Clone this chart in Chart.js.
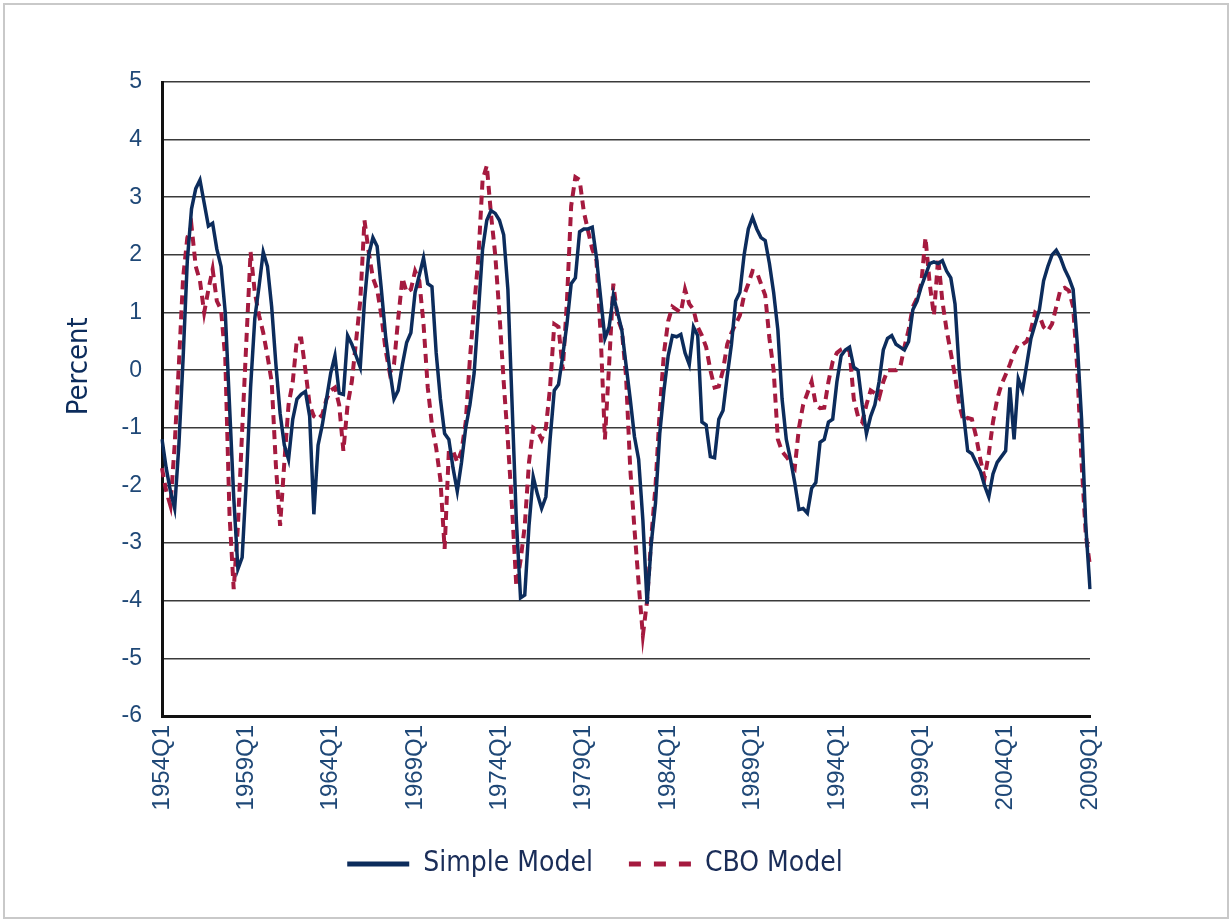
<!DOCTYPE html>
<html>
<head>
<meta charset="utf-8">
<title>Simple Model vs CBO Model</title>
<script src="https://cdn.jsdelivr.net/npm/chart.js@4.4.1/dist/chart.umd.min.js"></script>
<style>
  html, body { margin: 0; padding: 0; background: #fff; }
  #wrap { position: relative; width: 1231px; height: 919px; }
  #frame {
    position: absolute; left: 3px; top: 3px; width: 1226px; height: 916px;
    border: 2px solid #c9c9c9; box-sizing: border-box; pointer-events: none;
  }
</style>
</head>
<body>
<div id="wrap">
  <canvas id="gapChart" width="1231" height="919"></canvas>
  <div id="frame"></div>
</div>
<script>
// quarterly categories 1954Q1 .. 2009Q1
const firstYear = 1954;
const lastYear = 2009;
const quarters = [];
for (let y = firstYear; y <= lastYear; y++) {
    for (let q = 1; q <= 4; q++) {
        if (y === lastYear && q > 1) break;
        quarters.push(y + 'Q' + q);
    }
}

// labels shown on the x axis
const tickLabels = ['1954Q1', '1959Q1', '1964Q1', '1969Q1', '1974Q1', '1979Q1',
    '1984Q1', '1989Q1', '1994Q1', '1999Q1', '2004Q1', '2009Q1'];

// Simple Model, percent
const simpleModel = [
    -1.2, -1.7, -2.1, -2.4, -1.3, 0.2, 1.9, 2.8, 3.15, 3.3,
    2.9, 2.5, 2.55, 2.1, 1.8, 1.0, -0.6, -2.2, -3.45, -3.25,
    -1.9, -0.3, 0.9, 1.45, 2.05, 1.8, 1.1, 0.1, -0.75, -1.3,
    -1.55, -0.85, -0.5, -0.42, -0.37, -0.8, -2.5, -1.3, -0.95, -0.5,
    -0.05, 0.25, -0.4, -0.42, 0.6, 0.45, 0.25, 0.05, 1.2, 2.0,
    2.3, 2.15, 1.4, 0.6, 0.0, -0.5, -0.35, 0.1, 0.48, 0.65,
    1.35, 1.65, 1.95, 1.5, 1.45, 0.3, -0.5, -1.1, -1.2, -1.7,
    -2.1, -1.6, -1.0, -0.6, -0.05, 1.0, 2.1, 2.6, 2.77, 2.72,
    2.6, 2.35, 1.4, -0.6, -2.6, -3.95, -3.9, -2.7, -1.85, -2.15,
    -2.4, -2.2, -1.2, -0.35, -0.25, 0.25, 0.8, 1.5, 1.6, 2.4,
    2.45, 2.45, 2.48, 1.95, 1.25, 0.55, 0.75, 1.3, 1.0, 0.7,
    0.1, -0.5, -1.15, -1.55, -2.6, -4.05, -3.0, -2.3, -1.1, -0.35,
    0.25, 0.6, 0.58, 0.62, 0.3, 0.1, 0.75, 0.6, -0.9, -0.95,
    -1.5, -1.52, -0.85, -0.7, -0.1, 0.45, 1.2, 1.35, 2.0, 2.45,
    2.65, 2.45, 2.3, 2.25, 1.85, 1.35, 0.7, -0.5, -1.2, -1.55,
    -1.95, -2.42, -2.4, -2.48, -2.05, -1.95, -1.25, -1.2, -0.9, -0.85,
    -0.2, 0.25, 0.35, 0.4, 0.05, 0.0, -0.6, -1.1, -0.8, -0.6,
    -0.2, 0.35, 0.55, 0.6, 0.45, 0.4, 0.35, 0.5, 1.05, 1.2,
    1.45, 1.65, 1.85, 1.88, 1.85, 1.9, 1.72, 1.6, 1.15, 0.0,
    -0.75, -1.4, -1.45, -1.6, -1.75, -2.0, -2.2, -1.8, -1.6, -1.5,
    -1.4, -0.3, -1.2, -0.15, -0.35, 0.1, 0.55, 0.8, 1.05, 1.55,
    1.8, 2.0, 2.08, 1.95, 1.75, 1.6, 1.4, 0.45, -0.85, -2.7, -3.8
];

// CBO Model, percent
const cboModel = [
    -1.7, -2.1, -2.35, -1.3, 0.1, 1.6, 2.3, 2.5, 1.8, 1.55,
    1.0, 1.4, 1.75, 1.2, 1.05, 0.2, -2.5, -3.8, -2.7, -1.05,
    0.5, 2.05, 1.35, 0.95, 0.65, 0.25, -0.2, -1.65, -2.7, -1.6,
    -0.6, -0.2, 0.55, 0.55, 0.0, -0.6, -0.8, -0.85, -0.77, -0.5,
    -0.35, -0.3, -0.6, -1.4, -0.6, -0.2, 0.5, 1.2, 2.6, 2.05,
    1.6, 1.4, 0.95, 0.35, -0.05, 0.1, 0.9, 1.6, 1.35, 1.4,
    1.72, 1.55, 0.8, -0.3, -0.95, -1.35, -1.9, -3.1, -1.4, -1.4,
    -1.6, -1.4, -0.9, 0.2, 1.1, 1.95, 3.3, 3.55, 2.7, 2.0,
    0.97, -0.2, -1.23, -2.4, -3.75, -3.3, -2.7, -1.6, -1.0, -1.05,
    -1.2, -1.0, -0.3, 0.8, 0.75, 0.0, 1.2, 2.85, 3.35, 3.3,
    2.75, 2.42, 2.1, 1.9, 0.6, -1.2, 0.1, 1.5, 0.9, 0.7,
    -0.1, -1.7, -2.75, -3.7, -4.6, -4.0, -2.9, -2.0, -0.7, 0.3,
    0.85, 1.1, 1.05, 1.0, 1.4, 1.15, 1.05, 0.75, 0.6, 0.4,
    0.0, -0.3, -0.28, 0.0, 0.45, 0.65, 0.8, 0.95, 1.3, 1.5,
    1.72, 1.7, 1.5, 1.3, 0.55, 0.0, -1.2, -1.41, -1.5, -1.6,
    -1.7, -1.0, -0.6, -0.4, -0.2, -0.6, -0.66, -0.65, -0.2, 0.15,
    0.3, 0.36, 0.39, 0.33, -0.5, -0.8, -0.9, -0.6, -0.35, -0.4,
    -0.48, -0.2, 0.0, 0.0, 0.0, 0.05, 0.4, 0.7, 1.1, 1.25,
    1.5, 2.3, 1.5, 0.95, 1.95, 1.2, 0.7, 0.3, -0.1, -0.6,
    -0.88, -0.83, -0.85, -1.15, -1.55, -1.87, -1.45, -0.9, -0.5, -0.25,
    -0.08, 0.1, 0.3, 0.45, 0.45, 0.5, 0.7, 1.0, 0.95, 0.75,
    0.68, 0.8, 1.1, 1.4, 1.43, 1.38, 1.1, 0.0, -1.6, -2.85, -3.4
];

const navy = '#0c2c5c';
const crimson = '#a51a3f';
const tickBlue = '#1f4877';
const condensed = '"Liberation Sans Narrow", "DejaVu Sans Condensed", "Liberation Sans", sans-serif';
const regular = '"Liberation Sans", Arial, sans-serif';

// legend samples: solid for Simple, three long dashes for CBO (as in the original key)
const legendDashes = [[], [12, 13]];

// y axis title, centred on the zero line like the original
const percentTitle = {
    id: 'percentTitle',
    afterDraw(chart) {
        const ctx = chart.ctx;
        const yPix = chart.scales.y.getPixelForValue(0) - 4;
        ctx.save();
        ctx.translate(79, yPix);
        ctx.rotate(-Math.PI / 2);
        ctx.fillStyle = navy;
        ctx.font = '29px ' + condensed;
        ctx.textAlign = 'center';
        ctx.textBaseline = 'middle';
        ctx.fillText('Percent', 0, 0);
        ctx.restore();
    }
};

const ctx = document.getElementById('gapChart').getContext('2d');
const gapChart = new Chart(ctx, {
    type: 'line',
    data: {
        labels: quarters,
        datasets: [{
            label: 'Simple Model',
            data: simpleModel,
            borderColor: navy,
            backgroundColor: navy,
            borderWidth: 3.5,
            pointRadius: 0,
            tension: 0,
        }, {
            label: 'CBO Model',
            data: cboModel,
            borderColor: crimson,
            backgroundColor: crimson,
            borderWidth: 4,
            borderDash: [9, 6],
            pointRadius: 0,
            tension: 0,
        }],
    },
    options: {
        responsive: false,
        animation: false,
        layout: {
            padding: { left: 100, top: 82, right: 141, bottom: 31 },
        },
        plugins: {
            tooltip: { enabled: false },
            legend: {
                position: 'bottom',
                labels: {
                    usePointStyle: true,
                    pointStyle: 'line',
                    pointStyleWidth: 62,
                    padding: 36,
                    color: '#1a2d58',
                    font: { family: condensed, size: 28 },
                    generateLabels(chart) {
                        const items = Chart.defaults.plugins.legend.labels.generateLabels(chart);
                        items.forEach((item, i) => {
                            const ds = chart.data.datasets[item.datasetIndex];
                            item.strokeStyle = ds.borderColor;
                            item.lineWidth = 5;
                            item.lineDash = legendDashes[i];
                        });
                        return items;
                    },
                },
            },
        },
        scales: {
            x: {
                afterFit(scale) { scale.height = 98; },
                grid: { display: false, drawTicks: false },
                border: { display: true, color: '#111', width: 3 },
                ticks: {
                    autoSkip: false,
                    maxRotation: 90,
                    minRotation: 90,
                    padding: 9,
                    color: tickBlue,
                    font: { family: regular, size: 24 },
                    callback(value, index) {
                        const lab = quarters[index];
                        return tickLabels.includes(lab) ? lab : null;
                    },
                },
            },
            y: {
                min: -6,
                max: 5,
                afterFit(scale) { scale.width = 62; },
                grid: { color: '#3a3a3a', lineWidth: 1.6, drawTicks: false },
                border: { display: true, color: '#111', width: 3 },
                ticks: {
                    stepSize: 1,
                    padding: 20,
                    color: tickBlue,
                    font: { family: regular, size: 23 },
                },
            },
        },
    },
    plugins: [percentTitle],
});
</script>
</body>
</html>
